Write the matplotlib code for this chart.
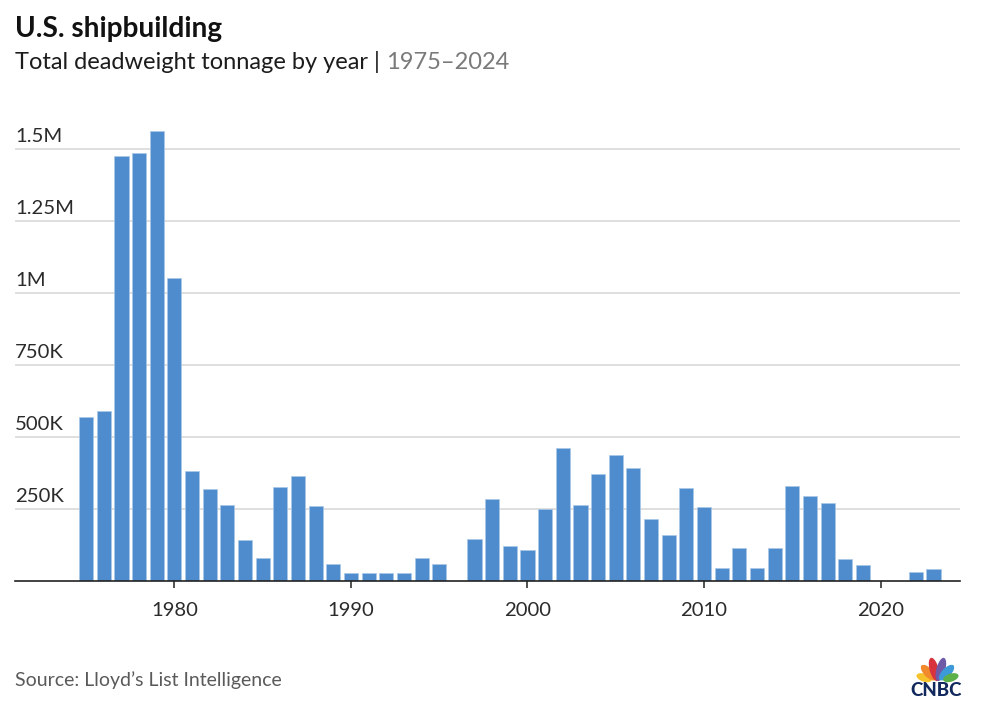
import math
import matplotlib
matplotlib.use('Agg')
import matplotlib.pyplot as plt
from matplotlib.patches import Ellipse

plt.rcParams['font.family'] = ['Lato', 'DejaVu Sans']

years = list(range(1975, 2024))
tonnage = [569, 590, 1476, 1486, 1562, 1052, 382, 320, 264, 142,
           80, 326, 365, 260, 59, 28, 28, 28, 28, 80,
           59, 0, 146, 285, 120, 107, 250, 462, 264, 372,
           437, 392, 215, 160, 323, 257, 45, 115, 45, 115,
           330, 295, 271, 76, 55, 0, 0, 31, 42]
y_ticks = [250, 500, 750, 1000, 1250, 1500]
y_labels = ['250K', '500K', '750K', '1M', '1.25M', '1.5M']
x_ticks = [1980, 1990, 2000, 2010, 2020]
logo_colors = ['#f5c22c', '#f08a2c', '#d8323c', '#6f5aa8', '#3d9ad9', '#5cb04a']

W, H = 1004, 720
fig = plt.figure(figsize=(W / 100, H / 100), dpi=100)
ax = fig.add_axes([15 / W, 1 - 581 / H, 945 / W, 461 / H])

ax.bar(years, tonnage, width=0.8, color='#4f8ccd', edgecolor='#a9c8e8', linewidth=0.5, zorder=3)
ax.set_xlim(1970.97, 2024.5)
ax.set_ylim(0, 1600)

ax.set_yticks(y_ticks)
ax.set_yticklabels([])
ax.tick_params(axis='y', length=0)
ax.grid(axis='y', color='#d6d6d6', linewidth=1.1, zorder=0)
ax.set_axisbelow(True)

ax.set_xticks(x_ticks)
ax.set_xticklabels([str(x) for x in x_ticks], fontsize=14.6, color='#2b2b2b')
ax.tick_params(axis='x', length=5, width=1.1, color='#222222', pad=10)

for side in ['top', 'left', 'right']:
    ax.spines[side].set_visible(False)
ax.spines['bottom'].set_color('#222222')
ax.spines['bottom'].set_linewidth(1.2)
ax.spines['bottom'].set_zorder(5)

for v, lab in zip(y_ticks, y_labels):
    ax.annotate(lab, xy=(0, v), xycoords=ax.get_yaxis_transform(), xytext=(0, 3),
                textcoords='offset points', fontsize=14.6, color='#2b2b2b', va='bottom', ha='left')

# header and footer
fig.text(15 / W, 1 - 37 / H, 'U.S. shipbuilding', fontsize=20.2, fontweight='bold', color='#111111')
sub = fig.text(15 / W, 1 - 69 / H, 'Total deadweight tonnage by year | ', fontsize=17, color='#1c1c1c')
ax.annotate('1975–2024', xy=(1, 0), xycoords=sub, fontsize=17, color='#7a7a7a',
            va='bottom', ha='left', annotation_clip=False)
fig.text(15 / W, 1 - 686 / H, 'Source: Lloyd’s List Intelligence', fontsize=14, color='#5a5a5a')

# CNBC logo
logo = fig.add_axes([905 / W, 1 - 702 / H, 64 / W, 48 / H])
logo.set_xlim(905, 969)
logo.set_ylim(702, 654)
logo.axis('off')
cx, cy = 937.5, 682
angles = [-72, -44, -15, 15, 44, 72]
lengths = [16, 20, 24, 24, 20, 16]
widths = [8, 9, 9, 9, 9, 8]
dists = [14, 13, 13, 13, 13, 14]
for c, ang, ln, wd, d in zip(logo_colors, angles, lengths, widths, dists):
    a = math.radians(ang)
    logo.add_patch(Ellipse((cx + d * math.sin(a), cy - d * math.cos(a)), wd, ln,
                           angle=ang, color=c, lw=0))
logo.text(936.5, 690.5, 'CNBC', fontsize=13.5, fontweight='black', color='#12295d', ha='center', va='center')

fig.savefig('out.png', dpi=100)
